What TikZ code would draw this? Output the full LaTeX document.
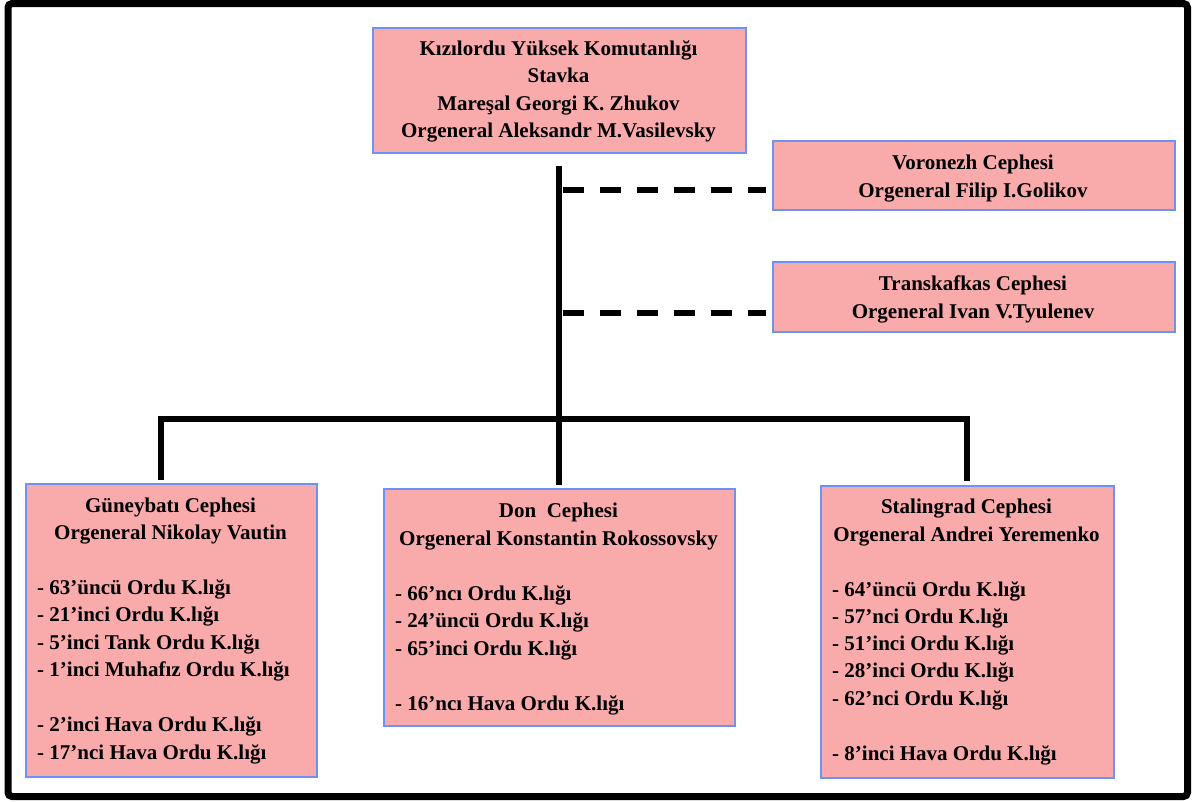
\documentclass[tikz,border=0pt]{standalone}
\usepackage{fontspec}
\setmainfont{Liberation Serif}
\definecolor{boxfill}{RGB}{249,170,170}
\definecolor{boxline}{RGB}{110,145,245}
\begin{document}
\begin{tikzpicture}[x=1pt,y=-1pt,
  box/.style={draw=boxline, fill=boxfill, line width=1.5pt, inner sep=0pt, anchor=north west},
  txt/.style={font=\fontsize{21}{27.5}\selectfont\bfseries, inner sep=0pt, text=black},
  conn/.style={line width=6pt, black, line join=miter},
  dashconn/.style={line width=6pt, black, dash pattern=on 21pt off 16pt}]
\useasboundingbox (0,0) rectangle (1194,801);
\fill[white] (0,0) rectangle (1194,801);
\draw[line width=7pt, rounded corners=4pt] (8,3.5) rectangle (1187.5,796.5);

% boxes
\node[box, minimum width=373pt, minimum height=125pt] (top) at (372,27) {};
\node[box, minimum width=402pt, minimum height=69pt] (vor) at (772,140) {};
\node[box, minimum width=402pt, minimum height=70pt] (tra) at (772,261) {};
\node[box, minimum width=291pt, minimum height=293pt] (gb) at (25,483) {};
\node[box, minimum width=351pt, minimum height=237pt] (don) at (383,488) {};
\node[box, minimum width=293pt, minimum height=292pt] (st) at (820,485) {};

% texts
\foreach \ltxt [count=\i] in {Kızılordu Yüksek Komutanlığı, Stavka, Mareşal Georgi K. Zhukov, Orgeneral Aleksandr M.Vasilevsky}
  \node[txt, anchor=base] (top-\i) at (558.5,{55+27.5*(\i-1)}) {\ltxt};
\foreach \ltxt [count=\i] in {Voronezh Cephesi, Orgeneral Filip I.Golikov}
  \node[txt, anchor=base] (vor-\i) at (973,{169+28*(\i-1)}) {\ltxt};
\foreach \ltxt [count=\i] in {Transkafkas Cephesi, Orgeneral Ivan V.Tyulenev}
  \node[txt, anchor=base] (tra-\i) at (973,{290+28*(\i-1)}) {\ltxt};

\foreach \ltxt [count=\i] in {Güneybatı Cephesi, Orgeneral Nikolay Vautin}
  \node[txt, anchor=base] (gbh-\i) at (170.5,{512+27.5*(\i-1)}) {\ltxt};
\foreach \ltxt [count=\i] in {- 63’üncü Ordu K.lığı, - 21’inci Ordu K.lığı, - 5’inci Tank Ordu K.lığı, - 1’inci Muhafız Ordu K.lığı}
  \node[txt, anchor=base west] (gba-\i) at (37,{594+27.5*(\i-1)}) {\ltxt};
\foreach \ltxt [count=\i] in {- 2’inci Hava Ordu K.lığı, - 17’nci Hava Ordu K.lığı}
  \node[txt, anchor=base west] (gbb-\i) at (37,{731.5+27.5*(\i-1)}) {\ltxt};

\foreach \ltxt [count=\i] in {Don~~Cephesi, Orgeneral Konstantin Rokossovsky}
  \node[txt, anchor=base] (donh-\i) at (558.5,{517+28*(\i-1)}) {\ltxt};
\foreach \ltxt [count=\i] in {- 66’ncı Ordu K.lığı, - 24’üncü Ordu K.lığı, - 65’inci Ordu K.lığı}
  \node[txt, anchor=base west] (dona-\i) at (395,{600+27.5*(\i-1)}) {\ltxt};
\node[txt, anchor=base west] (donb-1) at (395,710) {- 16’ncı Hava Ordu K.lığı};

\foreach \ltxt [count=\i] in {Stalingrad Cephesi, Orgeneral Andrei Yeremenko}
  \node[txt, anchor=base] (sth-\i) at (966.5,{513.5+27.5*(\i-1)}) {\ltxt};
\foreach \ltxt [count=\i] in {- 64’üncü Ordu K.lığı, - 57’nci Ordu K.lığı, - 51’inci Ordu K.lığı, - 28’inci Ordu K.lığı, - 62’nci Ordu K.lığı}
  \node[txt, anchor=base west] (sta-\i) at (832,{596+27.3*(\i-1)}) {\ltxt};
\node[txt, anchor=base west] (stb-1) at (832,760) {- 8’inci Hava Ordu K.lığı};

% connectors
\coordinate (vd) at ([yshift=-14.5pt]vor.west);
\coordinate (td) at ([yshift=-16pt]tra.west);
\coordinate (gbtop) at ([xshift=-10.5pt]gb.north);
\coordinate (bar) at (558.5,419);
\draw[conn, shorten <=12pt, shorten >=3pt] (top.south) -- (don.north);
\draw[dashconn, shorten <=3.5pt, shorten >=6pt] (vd -| top.south) -- (vd);
\draw[dashconn, shorten <=3.5pt, shorten >=6pt] (td -| top.south) -- (td);
\draw[conn, shorten <=3pt, shorten >=4.5pt] (gbtop) |- (bar) -| (st.north);
\end{tikzpicture}
\end{document}
